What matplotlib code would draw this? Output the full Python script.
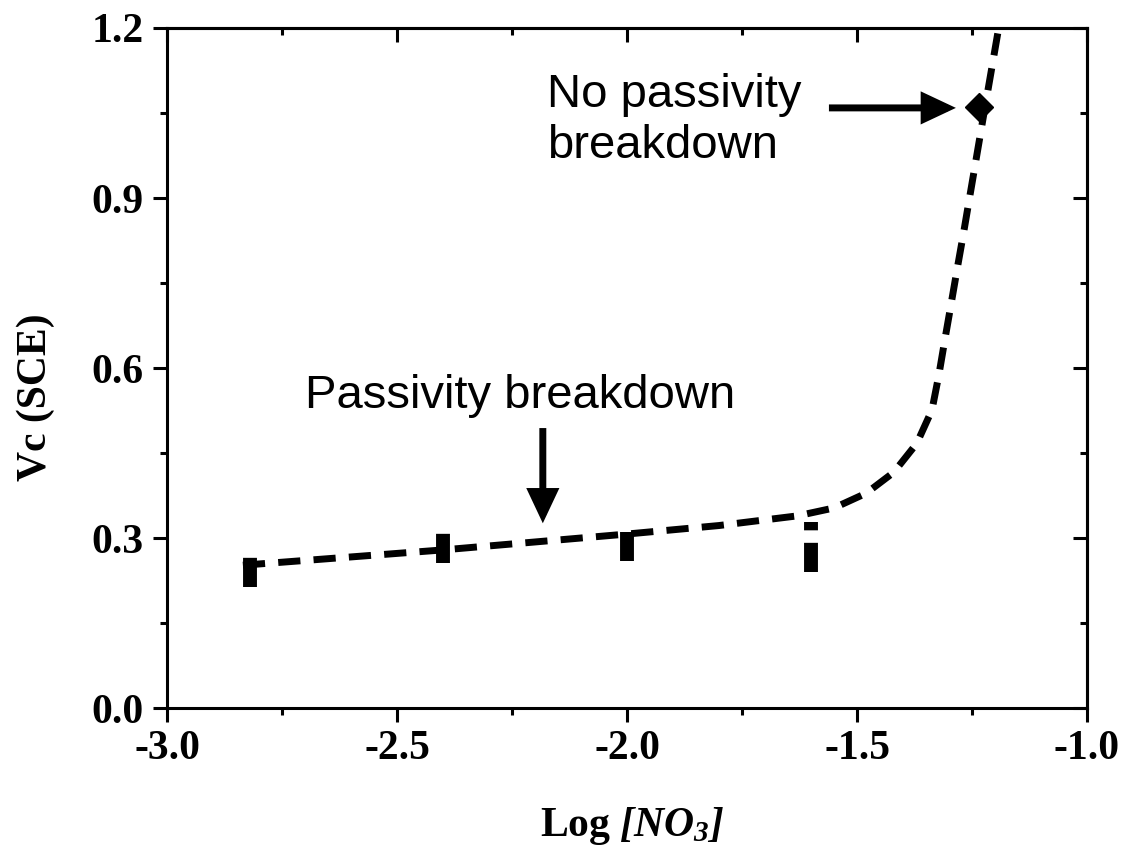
import matplotlib
matplotlib.use("Agg")
import matplotlib.pyplot as plt
from matplotlib.patches import FancyArrowPatch
from matplotlib.ticker import MultipleLocator

plt.rcParams['lines.scale_dashes'] = False
plt.rcParams['font.family'] = 'Liberation Serif'
plt.rcParams['font.weight'] = 'bold'
plt.rcParams['axes.labelweight'] = 'bold'
plt.rcParams['mathtext.fontset'] = 'custom'
plt.rcParams['mathtext.rm'] = 'Liberation Serif:italic:bold'
plt.rcParams['mathtext.it'] = 'Liberation Serif:italic:bold'
plt.rcParams['mathtext.bf'] = 'Liberation Serif:italic:bold'

# measured critical potentials (mean and half-spread)
log_no3 = [-2.82, -2.40, -2.00, -1.60]
vc_mean = [0.250, 0.282, 0.285, 0.284]
vc_err = [0.036, 0.026, 0.026, 0.044]

# condition without breakdown
nb_x = [-1.235]
nb_y = [1.06]

# trend curve through the data
fit_x = [-2.835, -2.40, -2.00, -1.80, -1.63, -1.55, -1.48, -1.42, -1.37,
         -1.337, -1.322, -1.309, -1.295, -1.282, -1.268, -1.255, -1.222, -1.192]
fit_y = [0.252, 0.279, 0.307, 0.322, 0.339, 0.353, 0.379, 0.416, 0.467,
         0.526, 0.588, 0.650, 0.715, 0.776, 0.840, 0.902, 1.059, 1.200]

W, H = 1124, 855
fig = plt.figure(figsize=(W / 100, H / 100), dpi=100)
ax = fig.add_axes([167 / W, 1 - 708 / H, 920 / W, 680 / H])

sans = {'family': 'Liberation Sans', 'weight': 'normal'}

ax.plot(fit_x, fit_y, color='black', lw=5, linestyle=(0, (16, 9.5)),
        dash_capstyle='butt', solid_capstyle='butt')

eb = ax.errorbar(log_no3, vc_mean, yerr=vc_err, fmt='none', ecolor='black',
                 elinewidth=10, capsize=0)
for coll in eb[2]:
    coll.set_linestyle([(0, (21, 9))])
    coll.set_capstyle('butt')

ax.plot(nb_x, nb_y, linestyle='none', marker='D', markersize=14,
        color='black', mec='black', zorder=5)

ax.set_xlim(-3.0, -1.0)
ax.set_ylim(0.0, 1.2)
ax.xaxis.set_major_locator(MultipleLocator(0.5))
ax.xaxis.set_minor_locator(MultipleLocator(0.25))
ax.yaxis.set_major_locator(MultipleLocator(0.3))
ax.yaxis.set_minor_locator(MultipleLocator(0.15))
ax.xaxis.set_major_formatter(plt.FuncFormatter(lambda v, p: f"{v:.1f}"))
ax.yaxis.set_major_formatter(plt.FuncFormatter(lambda v, p: f"{v:.1f}"))

for s in ax.spines.values():
    s.set_linewidth(2.2)

ax.tick_params(which='major', direction='out', length=10, width=2.2,
               labelsize=30, pad=6)
ax.tick_params(which='minor', direction='out', length=5, width=2.2)
ax.tick_params(axis='y', which='major', pad=7)

# inward ticks on the top and right edges
top = ax.secondary_xaxis('top')
right = ax.secondary_yaxis('right')
for sec in (top, right):
    sec.tick_params(which='major', direction='in', length=10, width=2.2)
    sec.tick_params(which='minor', direction='in', length=5, width=2.2)
    for s in sec.spines.values():
        s.set_linewidth(2.2)
top.xaxis.set_major_locator(MultipleLocator(0.5))
top.xaxis.set_minor_locator(MultipleLocator(0.25))
right.yaxis.set_major_locator(MultipleLocator(0.3))
right.yaxis.set_minor_locator(MultipleLocator(0.15))
top.set_xticklabels([])
right.set_yticklabels([])

ax.set_ylabel('Vc (SCE)', fontsize=30, fontweight='bold')
ax.yaxis.set_label_coords(-0.122, 0.457)
ax.set_xlabel(r'Log $[NO_3]$', fontsize=30, fontweight='bold')
ax.xaxis.set_label_coords(0.505, -0.142)

ax.text(-2.174, 0.9705, 'No passivity\nbreakdown', fontsize=34,
        ha='left', va='baseline', linespacing=1.2, **sans)
ax.text(-2.70, 0.529, 'Passivity breakdown', fontsize=34,
        ha='left', va='baseline', **sans)

arrow_kw = dict(arrowstyle='-|>,head_length=17,head_width=8',
                mutation_scale=1, color='black', lw=5, shrinkA=0, shrinkB=0,
                joinstyle='miter', capstyle='butt')
ax.add_patch(FancyArrowPatch((-1.561, 1.059), (-1.285, 1.059), **arrow_kw))
ax.add_patch(FancyArrowPatch((-2.183, 0.494), (-2.183, 0.326), **arrow_kw))

fig.savefig('out.png', dpi=100)
